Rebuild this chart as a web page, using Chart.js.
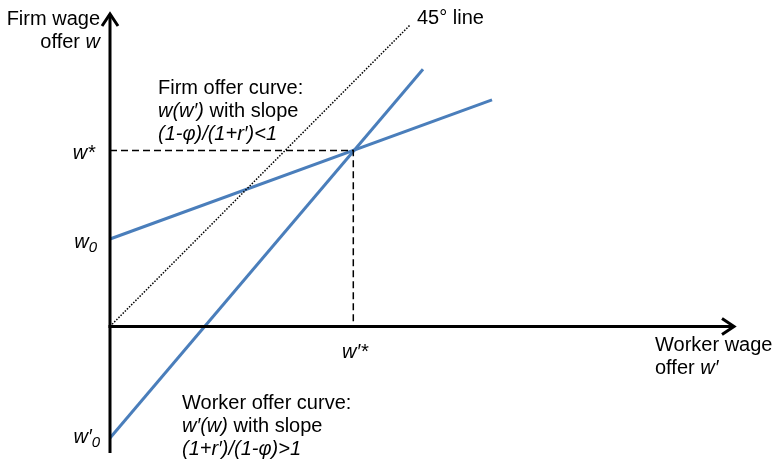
<!DOCTYPE html>
<html><head><meta charset="utf-8">
<script src="https://cdn.jsdelivr.net/npm/chart.js@4"></script>
<style>html,body{margin:0;padding:0;background:#fff}#wrap{width:774px;height:461px}</style>
</head><body><div id="wrap"><canvas id="c" width="774" height="461"></canvas></div>
<script>
// data (x = worker wage offer w', y = firm wage offer w), arbitrary units
const line45 = [{x:0,y:0},{x:30,y:30}];
const firmCurve = [{x:0,y:8.7},{x:38.2,y:22.55}];
const workerCurve = [{x:0,y:-11.1},{x:31.3,y:25.6}];
const equilibrium = {x:24.33,y:17.5};
const dashedGuide = [{x:0,y:equilibrium.y},{x:equilibrium.x,y:equilibrium.y},{x:equilibrium.x,y:0}];
const yAxisRange = [-12.6, 31.2];
const xAxisRange = [0, 62.5];

const BLUE = '#4a7ebb';
const FONT = '"Liberation Sans", Arial, sans-serif';

const overlay = {
  id:'overlay',
  afterDatasetsDraw(chart){
    const c = chart.ctx, xs = chart.scales.x, ys = chart.scales.y;
    const X = v=>xs.getPixelForValue(v), Y = v=>ys.getPixelForValue(v);
    c.save();
    // axes
    c.strokeStyle='#000'; c.lineWidth=3; c.lineCap='butt';
    c.beginPath(); c.moveTo(X(0),Y(yAxisRange[0])); c.lineTo(X(0),Y(yAxisRange[1])+1); c.stroke();
    c.beginPath(); c.moveTo(X(0)-1.5,Y(0)); c.lineTo(X(xAxisRange[1])-1,Y(0)); c.stroke();
    // arrowheads
    c.lineJoin='miter';
    const ty = Y(yAxisRange[1]);
    c.beginPath(); c.moveTo(X(0)-8,ty+13); c.lineTo(X(0),ty+1); c.lineTo(X(0)+8,ty+13); c.stroke();
    const tx = X(xAxisRange[1]);
    c.beginPath(); c.moveTo(tx-13,Y(0)-8); c.lineTo(tx-1,Y(0)); c.lineTo(tx-13,Y(0)+8); c.stroke();

    // text helper: segments [text, italic, sub]
    function rich(segs, x, y, align){
      let w=0;
      const fontOf=s=>(s[1]?'italic ':'')+(s[2]?'15px ':'20px ')+FONT;
      segs.forEach(s=>{c.font=fontOf(s); w+=c.measureText(s[0]).width;});
      let cx = align==='right'? x-w : (align==='center'? x-w/2 : x);
      c.textAlign='left'; c.textBaseline='alphabetic'; c.fillStyle='#000';
      segs.forEach(s=>{c.font=fontOf(s); c.fillText(s[0],cx,y+(s[2]?4:0)); cx+=c.measureText(s[0]).width;});
    }
    rich([['Firm wage',0]],100,25,'right');
    rich([['offer ',0],['w',1]],100,48,'right');
    rich([['45° line',0]],417,24,'left');
    rich([['Firm offer curve:',0]],158,94,'left');
    rich([['w(w\u2032)',1],[' with slope',0]],158,117,'left');
    rich([['(1-\u03c6)/(1+r\u2032)<1',1]],158,140,'left');
    rich([['w*',1]],95,159,'right');
    rich([['w',1],['0',1,1]],97,248,'right');
    rich([['w\u2032*',1]],355,358,'center');
    rich([['Worker wage',0]],655,351,'left');
    rich([['offer ',0],['w\u2032',1]],655,374,'left');
    rich([['Worker offer curve:',0]],182,409,'left');
    rich([['w\u2032(w)',1],[' with slope',0]],182,432,'left');
    rich([['(1+r\u2032)/(1-\u03c6)>1',1]],182,455,'left');
    rich([['w\u2032',1],['0',1,1]],100,443,'right');
    c.restore();
  }
};

new Chart(document.getElementById('c'),{
  type:'scatter',
  data:{datasets:[
    {data:line45, showLine:true, borderColor:'#000', borderWidth:1.5, borderDash:[1.5,1.5], pointRadius:0, clip:false},
    {data:dashedGuide, showLine:true, borderColor:'#000', borderWidth:1.5, borderDash:[7,4], pointRadius:0, clip:false},
    {data:firmCurve, showLine:true, borderColor:BLUE, borderWidth:3, pointRadius:0, clip:false},
    {data:workerCurve, showLine:true, borderColor:BLUE, borderWidth:3, pointRadius:0, clip:false}
  ]},
  options:{
    responsive:false, animation:false, events:[],
    layout:{padding:{left:110,right:34,top:15,bottom:2}},
    plugins:{legend:{display:false},tooltip:{enabled:false}},
    scales:{
      x:{type:'linear',min:0,max:63,display:false},
      y:{type:'linear',min:-13.2,max:31.0,display:false}
    }
  },
  plugins:[overlay]
});
</script></body></html>
